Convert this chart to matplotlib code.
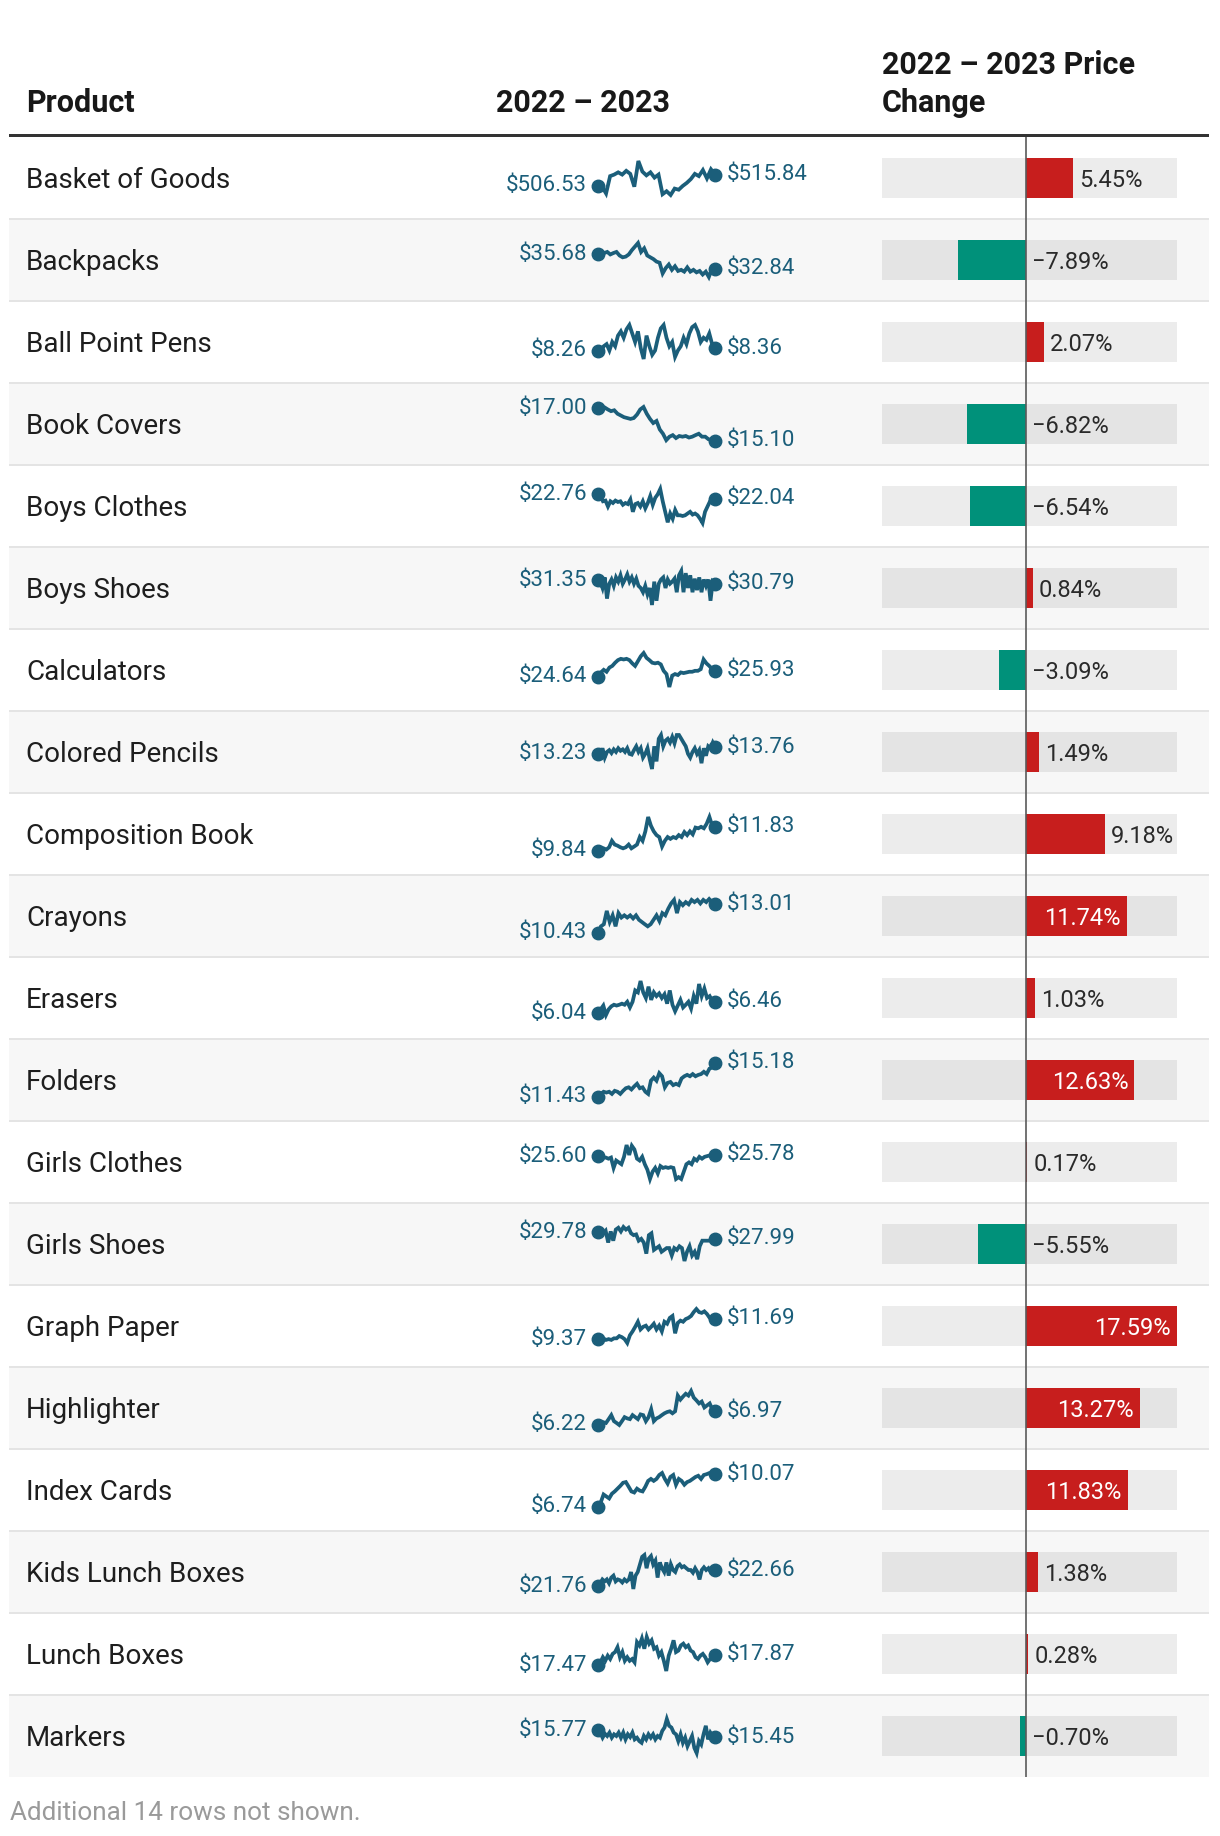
import numpy as np
import matplotlib.pyplot as plt
from matplotlib.patches import Rectangle

plt.rcParams['font.family'] = ['Roboto', 'DejaVu Sans']

products = ['Basket of Goods', 'Backpacks', 'Ball Point Pens', 'Book Covers', 'Boys Clothes',
            'Boys Shoes', 'Calculators', 'Colored Pencils', 'Composition Book', 'Crayons',
            'Erasers', 'Folders', 'Girls Clothes', 'Girls Shoes', 'Graph Paper',
            'Highlighter', 'Index Cards', 'Kids Lunch Boxes', 'Lunch Boxes', 'Markers']

pct_change = [5.45, -7.89, 2.07, -6.82, -6.54, 0.84, -3.09, 1.49, 9.18, 11.74,
              1.03, 12.63, 0.17, -5.55, 17.59, 13.27, 11.83, 1.38, 0.28, -0.70]

# price history 2022 - 2023
basket = [506.53, 505.91, 500.33, 514.59, 515.83, 517.69, 515.83, 518.93, 516.45, 505.91,
          526.99, 518.31, 515.21, 517.69, 513.35, 515.83, 499.71, 502.19, 499.09, 504.36,
          503.43, 506.53, 509.01, 512.11, 516.45, 514.59, 519.55, 512.73, 520.17, 515.84]
backpacks = [35.68, 35.68, 35.96, 36.18, 35.68, 35.96, 36.18, 35.47, 35.11, 35.25, 35.68, 36.53,
             37.24, 37.95, 36.18, 36.89, 35.47, 35.11, 34.76, 34.26, 34.05, 31.92, 32.98, 33.69,
             32.63, 33.34, 32.41, 32.63, 32.27, 33.12, 32.27, 32.63, 32.13, 32.41, 31.70, 32.27,
             31.21, 32.84, 32.84]
pens = [8.26, 8.22, 8.46, 8.56, 8.26, 8.66, 8.46, 8.96, 9.16, 8.86, 9.26, 9.46, 9.06, 8.66,
        9.16, 8.36, 7.86, 8.96, 8.46, 8.06, 8.26, 8.86, 9.30, 9.46, 8.86, 8.46, 8.66, 7.96,
        8.26, 8.46, 8.86, 8.56, 9.06, 9.36, 9.46, 9.16, 8.66, 8.86, 8.76, 9.06, 8.56, 8.36]
book_covers = [17.00, 17.00, 17.05, 16.93, 16.83, 16.88, 16.68, 16.58, 16.48, 16.43, 16.38,
               16.43, 16.63, 16.93, 17.07, 16.68, 16.38, 16.14, 16.26, 15.77, 15.52, 15.15,
               15.35, 15.44, 15.27, 15.39, 15.35, 15.39, 15.30, 15.35, 15.44, 15.52, 15.35,
               15.35, 15.20, 15.15, 15.10]
boys_clothes = [22.76, 22.49, 21.66, 21.77, 20.84, 21.66, 21.39, 21.77, 21.55, 21.66, 21.11,
                21.39, 21.22, 21.94, 20.01, 21.22, 21.39, 20.84, 21.66, 20.56, 21.39, 22.49,
                21.11, 22.21, 22.76, 23.59, 21.66, 20.01, 18.36, 19.74, 18.91, 20.29, 19.46,
                19.46, 19.35, 19.46, 19.74, 20.01, 19.57, 19.74, 19.46, 18.91, 18.25, 20.01,
                20.84, 21.66, 22.21, 22.04]
boys_shoes = [31.35, 31.14, 30.09, 31.84, 28.34, 30.79, 31.49, 30.44, 31.84, 31.14, 32.19,
              30.79, 31.49, 32.33, 31.14, 31.84, 30.79, 31.63, 30.44, 30.09, 29.39, 30.44,
              29.04, 30.09, 27.29, 31.14, 27.99, 30.79, 31.49, 31.84, 30.09, 31.49, 30.79,
              31.14, 31.63, 29.39, 32.19, 32.89, 29.39, 32.54, 30.09, 32.19, 29.39, 31.63,
              29.74, 31.84, 29.39, 31.49, 30.44, 31.49, 27.99, 31.14, 30.79]
calculators = [24.64, 25.57, 26.15, 25.72, 26.65, 27.01, 27.72, 28.30, 28.58, 28.44, 28.58,
               28.30, 27.58, 27.01, 28.08, 29.16, 29.87, 28.80, 28.30, 27.72, 27.58, 27.72,
               27.36, 25.93, 25.21, 22.35, 24.86, 25.21, 25.00, 25.57, 25.43, 25.57, 25.72,
               25.72, 25.93, 25.93, 26.29, 28.44, 27.58, 27.01, 26.29, 25.93]
pencils = [13.23, 13.08, 13.67, 12.94, 13.38, 13.52, 13.29, 13.58, 13.38, 13.67, 13.47, 13.58,
           13.38, 13.67, 13.23, 13.17, 13.52, 13.82, 13.38, 13.67, 12.94, 13.23, 13.67, 12.79,
           12.05, 13.82, 12.64, 14.41, 14.70, 13.82, 14.26, 14.41, 14.11, 14.55, 14.05, 14.70,
           14.70, 14.41, 14.11, 13.82, 13.23, 12.94, 13.38, 13.67, 13.23, 13.52, 12.50, 13.67,
           13.08, 13.82, 13.67, 14.11, 13.76]
composition = [9.84, 9.96, 10.06, 9.96, 10.15, 10.68, 10.37, 10.28, 10.15, 10.06, 10.15, 10.37,
               10.06, 10.21, 10.37, 10.99, 10.68, 11.46, 12.64, 11.92, 11.46, 11.15, 10.99,
               10.21, 10.68, 10.99, 10.84, 10.99, 10.90, 11.15, 10.99, 11.40, 11.15, 11.46,
               11.21, 11.77, 11.71, 11.83, 11.71, 12.08, 12.64, 11.92, 11.83]
crayons = [10.43, 11.03, 11.22, 12.42, 11.42, 12.02, 11.03, 12.22, 11.82, 12.02, 11.82, 12.02,
           11.74, 12.02, 11.62, 11.42, 11.22, 11.03, 11.22, 11.62, 12.02, 11.50, 12.22, 12.02,
           12.61, 13.09, 13.41, 12.22, 13.21, 12.93, 13.21, 13.01, 13.41, 13.21, 13.41, 13.09,
           13.41, 13.21, 13.49, 13.21, 13.01]
erasers = [6.04, 6.18, 6.32, 5.97, 6.18, 6.29, 6.35, 6.32, 6.35, 6.39, 6.35, 6.46, 6.25, 6.46,
           6.88, 6.81, 7.23, 6.81, 6.60, 7.02, 6.53, 6.81, 6.67, 6.77, 6.60, 6.74, 6.39, 6.88,
           6.35, 6.11, 6.32, 6.53, 6.25, 6.35, 6.46, 6.21, 6.67, 6.39, 7.12, 6.67, 6.95, 6.60,
           6.67, 6.49, 6.46]
folders = [11.43, 11.77, 12.01, 11.92, 12.01, 11.77, 12.11, 12.01, 11.77, 12.11, 12.40, 12.50,
           12.26, 12.60, 12.89, 12.40, 12.50, 12.01, 11.77, 13.23, 13.57, 13.23, 14.06, 13.72,
           12.50, 12.99, 13.09, 12.74, 12.89, 12.74, 13.48, 13.72, 13.87, 13.72, 13.96, 13.72,
           13.87, 13.96, 14.21, 13.96, 14.55, 14.69, 15.18]
girls_clothes = [25.60, 25.48, 25.36, 25.36, 25.18, 25.36, 23.68, 24.88, 24.58, 24.28, 25.48,
                 27.40, 25.78, 27.28, 26.68, 25.18, 24.88, 25.48, 24.28, 23.38, 21.88, 23.08,
                 23.68, 22.78, 23.98, 23.68, 23.80, 23.68, 23.80, 23.68, 21.88, 22.18, 21.88,
                 23.08, 24.28, 24.58, 24.28, 25.18, 24.88, 25.48, 25.18, 25.48, 25.60, 25.72,
                 25.78, 25.78]
girls_shoes = [29.78, 29.98, 29.48, 30.18, 26.99, 29.98, 27.49, 30.48, 30.97, 29.98, 31.17,
               30.48, 30.97, 29.48, 28.98, 29.18, 27.49, 27.99, 26.99, 24.01, 28.98, 29.48,
               25.01, 25.51, 26.00, 24.51, 25.01, 25.51, 25.51, 23.52, 25.51, 25.01, 26.00,
               25.51, 22.03, 24.51, 26.00, 23.52, 24.51, 22.52, 26.00, 27.49, 27.49, 27.49,
               27.49, 27.69, 27.99]
graph_paper = [9.37, 9.28, 9.46, 9.28, 9.37, 9.28, 9.46, 9.46, 9.72, 9.59, 9.37, 8.93, 9.81,
               10.25, 10.77, 11.34, 10.47, 10.77, 10.90, 10.47, 10.77, 11.12, 10.47, 10.90,
               10.25, 11.34, 11.12, 11.78, 12.00, 10.03, 11.21, 11.47, 11.34, 11.65, 11.78,
               12.00, 12.44, 12.79, 12.44, 12.35, 12.52, 12.22, 11.78, 11.56, 11.69]
highlighter = [6.22, 6.28, 6.37, 6.33, 6.54, 6.76, 6.43, 6.33, 6.22, 6.43, 6.65, 6.58, 6.54,
               6.76, 6.65, 6.54, 6.80, 6.76, 6.43, 6.65, 7.08, 6.43, 6.58, 6.65, 6.76, 6.86,
               6.93, 6.97, 6.86, 6.97, 7.83, 7.61, 7.78, 7.93, 7.83, 8.08, 7.72, 7.57, 7.40,
               7.50, 7.18, 7.29, 7.40, 7.08, 6.97]
index_cards = [6.74, 7.22, 8.01, 7.81, 7.61, 8.09, 8.32, 8.60, 8.88, 9.20, 9.27, 8.80, 8.32,
               8.21, 8.60, 8.40, 8.32, 8.80, 9.39, 9.59, 9.39, 9.59, 9.99, 10.19, 9.59, 9.12,
               9.79, 9.99, 9.00, 9.59, 9.39, 9.00, 9.27, 9.39, 9.59, 9.79, 9.91, 9.59, 9.99,
               10.07, 10.19, 10.19, 10.07]
kids_lunch = [21.76, 21.93, 22.14, 22.03, 22.14, 21.93, 22.24, 22.35, 22.03, 22.14, 22.09,
              21.97, 22.14, 22.03, 22.14, 22.55, 21.61, 22.35, 22.55, 22.97, 23.39, 23.49,
              22.76, 23.29, 23.43, 22.97, 23.18, 22.24, 23.08, 22.76, 22.55, 23.08, 22.35,
              22.97, 22.66, 22.55, 22.87, 22.97, 22.81, 22.87, 22.76, 22.66, 22.66, 22.51,
              22.76, 22.55, 22.14, 22.66, 22.81, 22.66, 22.76, 22.55, 22.66, 22.66]
lunch_boxes = [17.47, 17.58, 17.78, 17.64, 17.84, 17.71, 17.91, 17.98, 18.17, 17.78, 17.98,
               17.64, 17.78, 17.64, 17.71, 17.58, 18.37, 18.24, 18.51, 18.11, 18.57, 18.31,
               18.44, 18.11, 18.17, 17.84, 17.98, 17.64, 17.24, 17.84, 18.11, 18.44, 17.98,
               18.04, 18.24, 18.31, 18.17, 18.24, 18.04, 17.98, 17.78, 17.71, 17.84, 17.91,
               17.78, 17.58, 17.71, 17.84, 17.87]
markers = [15.77, 15.66, 15.42, 15.61, 15.50, 15.66, 15.42, 15.58, 15.50, 15.66, 15.42, 15.66,
           15.34, 15.58, 15.45, 15.66, 15.34, 15.42, 15.26, 15.18, 15.50, 15.34, 15.58, 15.42,
           15.58, 15.34, 15.50, 15.42, 15.74, 15.90, 16.30, 15.98, 15.90, 15.66, 15.58, 15.26,
           15.58, 15.18, 15.42, 15.02, 15.26, 15.50, 14.94, 14.70, 15.26, 15.10, 15.58, 15.98,
           15.34, 15.66, 15.50, 15.45]

sparks = [basket, backpacks, pens, book_covers, boys_clothes, boys_shoes, calculators, pencils,
          composition, crayons, erasers, folders, girls_clothes, girls_shoes, graph_paper,
          highlighter, index_cards, kids_lunch, lunch_boxes, markers]

W, H = 1220, 1836
TOP, ROW_H = 137, 82
n = len(products)
LINE_C = '#1b5e7a'
RED, GREEN = '#c71e1d', '#00917a'
LO, HI = -16.75, 17.59

fig = plt.figure(figsize=(W / 100, H / 100), dpi=100)
base = fig.add_axes([0, 0, 1, 1])
base.set_xlim(0, W)
base.set_ylim(H, 0)
base.axis('off')


def fig_box(x0, y0, x1, y1):
    return [x0 / W, 1 - y1 / H, (x1 - x0) / W, (y1 - y0) / H]


# header
hdr = dict(fontsize=22, fontweight='bold', color='#181818', va='center')
base.text(26, 102.5, 'Product', **hdr)
base.text(496, 102.5, '2022 \u2013 2023', **hdr)
base.text(882, 65, '2022 \u2013 2023 Price', **hdr)
base.text(882, 102.5, 'Change', **hdr)
base.add_patch(Rectangle((9, TOP - 3.5), 1200, 3.5, color='#333333', lw=0))

# rows
for i in range(n):
    y0 = TOP + i * ROW_H
    if i % 2 == 1:
        base.add_patch(Rectangle((9, y0), 1200, ROW_H, color='#f7f7f7', lw=0))
    if i > 0:
        base.add_patch(Rectangle((9, y0 - 1), 1200, 2.2, color='#e4e4e4', lw=0))
    base.text(26, y0 + ROW_H / 2 + 2.5, products[i], fontsize=20, color='#1e1e1e', va='center')

base.text(10, 1813, 'Additional 14 rows not shown.', fontsize=18.8, color='#9a9a9a', va='center')

# sparklines
for i, s in enumerate(sparks):
    cy = TOP + ROW_H * (i + 0.5)
    ax = fig.add_axes(fig_box(598, cy - 17, 715, cy + 17))
    ax.patch.set_alpha(0)
    xs = np.linspace(0, 1, len(s))
    ax.plot(xs, s, color=LINE_C, lw=2.7, clip_on=False, solid_joinstyle='miter')
    ax.plot([0, 1], [s[0], s[-1]], 'o', color=LINE_C, ms=9, clip_on=False)
    ax.set_xlim(0, 1)
    ax.set_ylim(min(s), max(s))
    ax.axis('off')
    ax.annotate(f'${s[0]:.2f}', (0, s[0]), xytext=(-11, 0), textcoords='offset pixels',
                ha='right', va='center', fontsize=16, color=LINE_C)
    ax.annotate(f'${s[-1]:.2f}', (1, s[-1]), xytext=(12, 0), textcoords='offset pixels',
                ha='left', va='center', fontsize=16, color=LINE_C)

# price change bars
bx = fig.add_axes(fig_box(882, TOP, 1177, TOP + n * ROW_H))
bx.patch.set_alpha(0)
rows = np.arange(n)
bx.barh(rows, HI - LO, left=LO, height=0.49, color=(0, 0, 0, 0.075), lw=0)
bx.barh(rows, pct_change, height=0.49, color=[RED if v > 0 else GREEN for v in pct_change], lw=0)
bx.axvline(0, color='#5a5a5a', lw=1.2, zorder=5)
bx.set_xlim(LO, HI)
bx.set_ylim(n - 0.5, -0.5)
bx.axis('off')

for i, v in enumerate(pct_change):
    label = f'{v:.2f}%'.replace('-', '\u2212')
    if v > 10:
        bx.annotate(label, (v, i), xytext=(-6, -2.5), textcoords='offset pixels',
                    ha='right', va='center', fontsize=17, color='white', zorder=6)
    else:
        bx.annotate(label, (max(v, 0), i), xytext=(6, -2.5), textcoords='offset pixels',
                    ha='left', va='center', fontsize=17, color='#2a2a2a', zorder=6)

fig.savefig('out.png', dpi=100)
